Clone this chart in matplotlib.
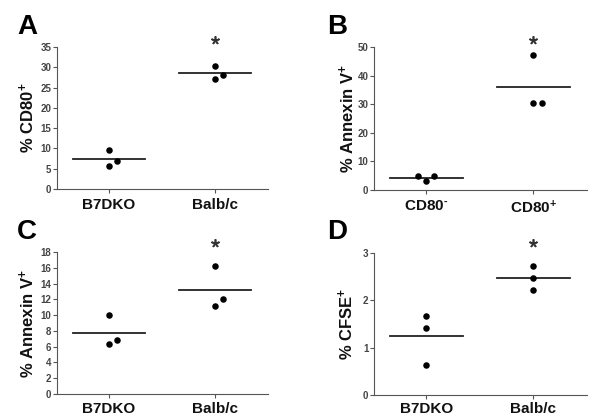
import matplotlib
matplotlib.use("Agg")
import matplotlib.pyplot as plt

plt.rcParams['font.family'] = ['Liberation Sans', 'DejaVu Sans']
plt.rcParams['font.weight'] = 'bold'
plt.rcParams['mathtext.fontset'] = 'custom'
plt.rcParams['mathtext.rm'] = 'Liberation Sans:bold'
plt.rcParams['mathtext.it'] = 'Liberation Sans:bold'
plt.rcParams['mathtext.bf'] = 'Liberation Sans:bold'

# ---- data ----
letters = ['A', 'B', 'C', 'D']
cats_A = ['B7DKO', 'Balb/c']
cats_B = [r'CD80$^{\text{-}}$', 'CD80$^{+}$']
cats_C = ['B7DKO', 'Balb/c']
cats_D = ['B7DKO', 'Balb/c']

ylabels = ['% CD80$^{+}$', '% Annexin V$^{+}$', '% Annexin V$^{+}$', '% CFSE$^{+}$']

A_vals = [[9.6, 5.7, 7.0], [30.2, 27.1, 28.2]]
B_vals = [[5.0, 3.0, 4.8], [47.3, 30.3, 30.5]]
C_vals = [[10.0, 6.3, 6.9], [16.2, 11.2, 12.1]]
D_vals = [[1.67, 1.42, 0.64], [2.73, 2.47, 2.21]]

A_means = [7.4, 28.5]
B_means = [4.2, 36.0]
C_means = [7.7, 13.2]
D_means = [1.24, 2.47]

# horizontal jitter of points (category units)
A_jit = [[0, 0, 0.08], [0, 0, 0.08]]
B_jit = [[-0.075, 0, 0.075], [0, 0, 0.075]]
C_jit = [[0, 0, 0.08], [0, 0, 0.08]]
D_jit = [[0, 0, 0], [0, 0, 0]]

# significance star position (Balb/c / CD80+ group)
star_y = [36.7, 52.4, 19.2, 3.22]

A_ticks = [0, 5, 10, 15, 20, 25, 30, 35]
B_ticks = [0, 10, 20, 30, 40, 50]
C_ticks = [0, 2, 4, 6, 8, 10, 12, 14, 16, 18]
D_ticks = [0, 1, 2, 3]

panels = [
    (cats_A, A_vals, A_means, A_jit, A_ticks),
    (cats_B, B_vals, B_means, B_jit, B_ticks),
    (cats_C, C_vals, C_means, C_jit, C_ticks),
    (cats_D, D_vals, D_means, D_jit, D_ticks),
]

W, H = 591, 417
fig = plt.figure(figsize=(W / 100, H / 100), dpi=100)

# axes boxes in pixels: left, top, right, bottom
boxes = [(57, 47, 268, 189), (374, 47, 587, 190), (57, 252, 268, 394), (374, 253, 587, 395)]
letter_pos = [(17, 34), (327, 34), (17, 239), (327, 239)]
ylabel_x = [27, 347, 27, 346]
xpads = [3.5, 3.5, 2.5, 2.0]

gray = '#555555'
for i, (cats, vals, means, jit, ticks) in enumerate(panels):
    l, t, r, b = boxes[i]
    ax = fig.add_axes([l / W, 1 - b / H, (r - l) / W, (b - t) / H])
    for g in range(2):
        xs = [g + j for j in jit[g]]
        ax.scatter(xs, vals[g], s=22, color='black', zorder=3, linewidths=0)
        ax.plot([g - 0.34, g + 0.34], [means[g], means[g]], color='#222222', lw=1.3)
    ax.plot([1], [star_y[i]], marker=(5, 2, 0), ms=6, mew=1.2, color='#333333', clip_on=False)
    ax.set_xlim(-0.49, 1.5)
    ax.set_ylim(0, ticks[-1])
    ax.set_yticks(ticks)
    ax.set_yticklabels([str(v) for v in ticks], fontsize=7, color='#444444', fontweight='bold')
    ax.set_xticks([0, 1])
    ax.set_xticklabels(cats, fontsize=11, fontweight='bold', color='#111111')
    for s in ['top', 'right']:
        ax.spines[s].set_visible(False)
    for s in ['left', 'bottom']:
        ax.spines[s].set_color(gray)
        ax.spines[s].set_linewidth(0.8)
    ax.tick_params(axis='y', length=3, width=0.8, color=gray, pad=1)
    ax.tick_params(axis='x', length=3, width=0.8, color=gray, pad=xpads[i])
    fig.text(ylabel_x[i] / W, 1 - ((t + b) / 2) / H, ylabels[i], rotation=90,
             ha='center', va='center', fontsize=12, fontweight='bold', color='#111111')
    fig.text(letter_pos[i][0] / W, 1 - letter_pos[i][1] / H, letters[i],
             ha='left', va='baseline', fontsize=20, fontweight='bold', color='black')

fig.savefig('out.png', dpi=100)
